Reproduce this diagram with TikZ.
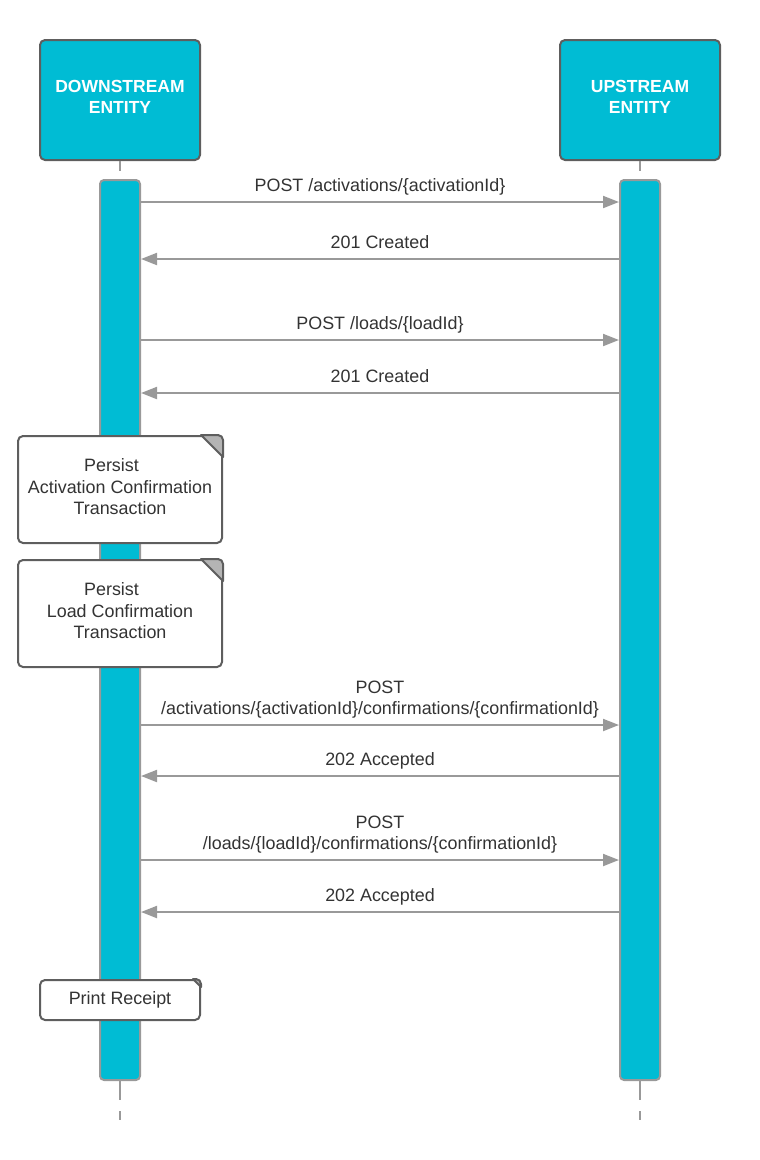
\documentclass[tikz,border=0pt]{standalone}
\usepackage{fontspec}
\setmainfont{Liberation Sans}
\usetikzlibrary{arrows.meta}
\definecolor{entity}{HTML}{00BCD4}
\definecolor{edge}{HTML}{5E5E5E}
\definecolor{wire}{HTML}{999999}
\definecolor{ink}{HTML}{333333}
\definecolor{foldgray}{HTML}{B4B4B4}

% folded top-right corner of a note: node name, fold size
\newcommand\notefold[2]{%
  \filldraw[fold] ([xshift=-#2]#1.north east) [rounded corners=5pt]-- (#1.north east) [sharp corners]-- ([yshift=-#2]#1.north east) -- cycle;}

\begin{document}
\begin{tikzpicture}[x=1pt,y=-1pt,
  font=\fontsize{17.9}{21.5}\selectfont, text=ink,
  entitybox/.style={draw=edge, line width=2pt, fill=entity, rounded corners=5pt,
    minimum width=160pt, minimum height=120pt, text=white,
    font=\fontsize{17.5}{21}\selectfont\bfseries, align=center, inner sep=0pt},
  actbar/.style={draw=wire, line width=2pt, fill=entity, rounded corners=4pt,
    minimum width=40pt, minimum height=900pt, inner sep=0pt},
  lifeline/.style={wire, line width=2pt,
    dash pattern=on 10pt off 910pt on 19pt off 11pt on 10pt},
  msg/.style={wire, line width=2pt, -{Triangle[length=16pt,width=12pt]}},
  lbl/.style={text=ink, align=center, inner sep=0pt, above=2.8pt},
  note/.style={draw=edge, line width=2pt, fill=white, rounded corners=5pt,
    align=center, inner sep=0pt},
  bignote/.style={note, minimum width=204pt, minimum height=107pt},
  fold/.style={draw=edge, line width=2pt, fill=foldgray, line join=round},
]
\useasboundingbox (0,0) rectangle (760,1160);

% participants
\node[entitybox] (down) at (120,100) {DOWNSTREAM\\ENTITY\rule[-7pt]{0pt}{0pt}};
\node[entitybox] (up)   at (640,100) {UPSTREAM\\ENTITY\rule[-7pt]{0pt}{0pt}};

% lifelines
\coordinate (dend) at (120,1120);
\coordinate (uend) at (640,1120);
\draw[lifeline] (down.south) -- (dend);
\draw[lifeline] (up.south) -- (uend);

% activation bars
\node[actbar] (dact) at (120,630) {};
\node[actbar] (uact) at (640,630) {};

% message rows
\coordinate (m1) at (0,202);
\coordinate (m2) at (0,259);
\coordinate (m3) at (0,340);
\coordinate (m4) at (0,393);
\coordinate (m5) at (0,725);
\coordinate (m6) at (0,776);
\coordinate (m7) at (0,860);
\coordinate (m8) at (0,912);

\draw[msg] (dact.east |- m1) -- (uact.west |- m1)
  node[lbl, midway] {POST /activations/\{activationId\}\strut};
\draw[msg] (uact.west |- m2) -- (dact.east |- m2)
  node[lbl, midway] {201 Created\strut};
\draw[msg] (dact.east |- m3) -- (uact.west |- m3)
  node[lbl, midway] {POST /loads/\{loadId\}\strut};
\draw[msg] (uact.west |- m4) -- (dact.east |- m4)
  node[lbl, midway] {201 Created\strut};

% notes on the downstream side
\node[bignote] (n1) at (120,489.5)
  {Persist\hspace*{17pt}\\Activation Confirmation\\Transaction\rule[-5pt]{0pt}{0pt}};
\notefold{n1}{22pt}
\node[bignote] (n2) at (120,613.5)
  {Persist\hspace*{17pt}\\Load Confirmation\\Transaction\rule[-5pt]{0pt}{0pt}};
\notefold{n2}{22pt}

\draw[msg] (dact.east |- m5) -- (uact.west |- m5)
  node[lbl, midway] {POST\\/activations/\{activationId\}/confirmations/\{confirmationId\}\strut};
\draw[msg] (uact.west |- m6) -- (dact.east |- m6)
  node[lbl, midway] {202 Accepted\strut};
\draw[msg] (dact.east |- m7) -- (uact.west |- m7)
  node[lbl, midway] {POST\\/loads/\{loadId\}/confirmations/\{confirmationId\}\strut};
\draw[msg] (uact.west |- m8) -- (dact.east |- m8)
  node[lbl, midway] {202 Accepted\strut};

\node[note, minimum width=160pt, minimum height=40pt] (n3) at (120,1000) {Print Receipt};
\notefold{n3}{8pt}
\end{tikzpicture}
\end{document}
